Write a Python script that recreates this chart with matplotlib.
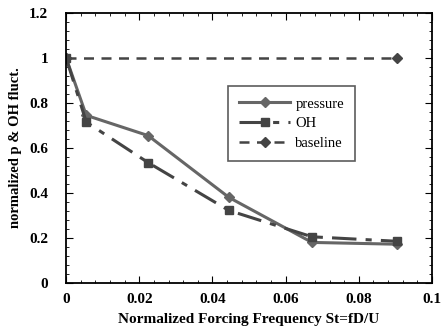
import matplotlib.pyplot as plt
from matplotlib.ticker import MultipleLocator

st = [0.0, 0.0055, 0.0224, 0.0445, 0.0672, 0.0905]
pressure = [1.0, 0.745, 0.655, 0.38, 0.18, 0.172]
oh = [1.0, 0.715, 0.535, 0.322, 0.205, 0.185]
base_x = [0.0, 0.0905]
baseline = [1.0, 1.0]

plt.rcParams['font.family'] = ['Liberation Serif', 'DejaVu Serif']
plt.rcParams['font.weight'] = 'bold'

fig = plt.figure(figsize=(4.44, 3.34), dpi=100)
ax = fig.add_axes([0.149, 0.153, 0.824, 0.808])

ax.plot(st, pressure, color='#666666', lw=2.2, marker='D', ms=5, label='pressure')
ax.plot(st, oh, color='#444444', lw=2.2, ls=(0, (8, 3, 2, 3)), marker='s', ms=6, label='OH')
ax.plot(base_x, baseline, color='#444444', lw=1.8, ls=(0, (4, 3)), marker='D', ms=5, label='baseline')

ax.set_xlim(0, 0.1)
ax.set_ylim(0, 1.2)
ax.xaxis.set_minor_locator(MultipleLocator(0.004))
ax.yaxis.set_minor_locator(MultipleLocator(0.04))
ax.set_xticks([0, 0.02, 0.04, 0.06, 0.08, 0.1])
ax.set_xticklabels(['0', '0.02', '0.04', '0.06', '0.08', '0.1'])
ax.set_yticks([0, 0.2, 0.4, 0.6, 0.8, 1.0, 1.2])
ax.set_yticklabels(['0', '0.2', '0.4', '0.6', '0.8', '1', '1.2'])
ax.tick_params(which='both', direction='in', top=True, right=True, labelsize=11)
ax.tick_params(axis='x', pad=7)
ax.tick_params(axis='y', pad=13)
ax.tick_params(which='major', length=5)
ax.tick_params(which='minor', length=2.5)
for s in ax.spines.values():
    s.set_linewidth(1.3)

ax.set_xlabel('Normalized Forcing Frequency St=fD/U', fontsize=11, fontweight='bold', labelpad=5)
ax.set_ylabel('normalized p & OH fluct.', fontsize=10.5, fontweight='bold', labelpad=5)

leg = ax.legend(loc='upper left', bbox_to_anchor=(0.443, 0.728), fancybox=False, edgecolor='#333333',
                fontsize=10.5, handlelength=3.5, handletextpad=0.35, borderpad=0.75,
                labelspacing=0.45, borderaxespad=0)
leg.get_frame().set_linewidth(1.2)
for t in leg.get_texts():
    t.set_fontweight('normal')

fig.savefig('out.png', dpi=100)
